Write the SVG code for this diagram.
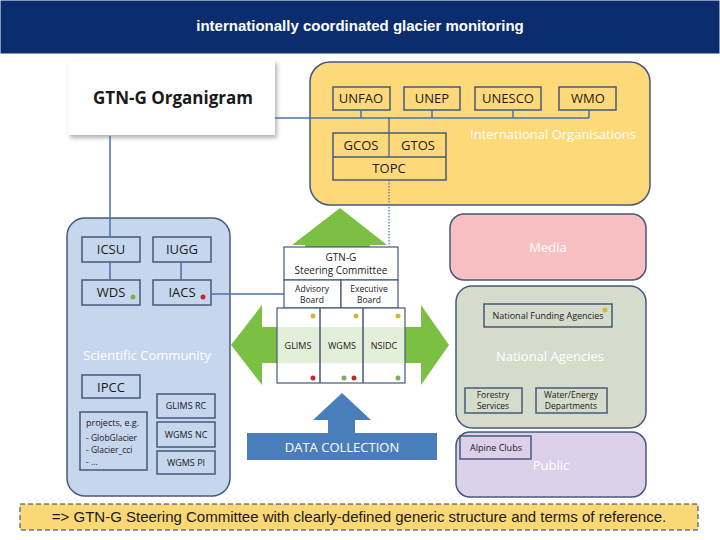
<svg xmlns="http://www.w3.org/2000/svg" width="720" height="540" viewBox="0 0 720 540">
<style>
text{font-family:"Open Sans","Liberation Sans",sans-serif;fill:#1a1a1a}
.b{fill:none;stroke:#44597a;stroke-width:1.5}
.w{fill:#fff;stroke:#44597a;stroke-width:1.2}
.ln{stroke:#4a72a8;stroke-width:1.5;fill:none}
.t{font-size:13px;text-anchor:middle}
.s{font-size:9px;text-anchor:middle}
.x{font-size:8.5px;text-anchor:middle}
.wt{fill:#fff;font-size:13px;text-anchor:middle}
</style>
<defs><filter id="sh" x="-10%" y="-10%" width="130%" height="130%"><feDropShadow dx="2" dy="3" stdDeviation="2" flood-opacity="0.3"/></filter></defs>
<rect width="720" height="540" fill="#fff"/>
<g id="header"><rect x="0" y="0" width="720" height="54" fill="#0b2d6e" stroke="#fff"/>
<text x="360" y="31" style="font-family:'Liberation Sans',sans-serif;font-size:15px;font-weight:bold;fill:#fff;text-anchor:middle">internationally coordinated glacier monitoring</text></g>
<g id="title"><rect x="68" y="60" width="207" height="75" fill="#fff" filter="url(#sh)"/>
<text x="93" y="104" style="font-size:17px;font-weight:bold">GTN-G Organigram</text></g>
<g id="intl"><rect x="310" y="62" width="340" height="143" rx="20" class="b" style="fill:#fdd97a"/>
<text x="553" y="139" class="wt">International Organisations</text>
<g class="b"><rect x="333" y="87" width="57" height="23"/><rect x="404" y="87" width="56" height="23"/><rect x="475" y="87" width="66" height="23"/><rect x="559" y="87" width="57" height="23"/>
<rect x="333" y="133" width="113" height="47"/><line x1="333" y1="157" x2="446" y2="157"/></g>
<text x="361" y="103" class="t">UNFAO</text><text x="432" y="103" class="t">UNEP</text><text x="508" y="103" class="t">UNESCO</text><text x="588" y="103" class="t">WMO</text>
<text x="361" y="150" class="t">GCOS</text><text x="418" y="150" class="t">GTOS</text><text x="389" y="173" class="t">TOPC</text></g>
<g id="sci"><rect x="67" y="218" width="163" height="278" rx="18" class="b" style="fill:#c6d6ec"/>
<text x="147" y="360" class="wt">Scientific Community</text>
<g class="b"><rect x="82" y="237" width="58" height="25"/><rect x="153" y="237" width="58" height="25"/><rect x="82" y="280" width="58" height="25"/><rect x="153" y="280" width="58" height="25"/>
<rect x="82" y="375" width="58" height="23"/><rect x="80" y="412" width="67" height="58"/><rect x="157" y="394" width="58" height="24"/><rect x="157" y="422" width="58" height="25"/><rect x="157" y="451" width="58" height="23"/></g>
<text x="111" y="254" class="t">ICSU</text><text x="182" y="254" class="t">IUGG</text><text x="111" y="297" class="t">WDS</text><text x="182" y="297" class="t">IACS</text>
<text x="111" y="392" class="t">IPCC</text>
<text x="86" y="426" style="font-size:9px">projects, e.g.</text><text x="86" y="441" style="font-size:8.5px">- GlobGlacier</text><text x="86" y="453" style="font-size:8.5px">- Glacier_cci</text><text x="86" y="465" style="font-size:8.5px">- ...</text>
<text x="186" y="409" class="s">GLIMS RC</text><text x="186" y="438" class="s">WGMS NC</text><text x="186" y="466" class="s">WGMS PI</text>
<circle cx="133" cy="297" r="2.5" fill="#7fae5a"/><circle cx="203" cy="297" r="2.5" fill="#c0282d"/></g>
<g id="media"><rect x="450" y="214" width="196" height="66" rx="14" class="b" style="fill:#f9c0c3"/><text x="548" y="252" class="wt">Media</text></g>
<g id="national"><rect x="456" y="286" width="190" height="142" rx="16" class="b" style="fill:#d6dccc"/>
<text x="550" y="361" class="wt">National Agencies</text>
<g class="b"><rect x="484" y="304" width="128" height="23"/><rect x="465" y="388" width="57" height="25"/><rect x="536" y="388" width="71" height="25"/></g>
<text x="548" y="319" class="s">National Funding Agencies</text><circle cx="605" cy="310" r="2.5" fill="#d4b83c"/>
<text x="493" y="398" class="x">Forestry</text><text x="493" y="409" class="x">Services</text><text x="571" y="398" class="x">Water/Energy</text><text x="571" y="409" class="x">Departments</text></g>
<g id="public"><rect x="456" y="432" width="190" height="65" rx="14" class="b" style="fill:#dcd0ea"/>
<rect x="460" y="436" width="71" height="23" class="b"/><text x="496" y="451" class="s">Alpine Clubs</text><text x="551" y="470" class="wt">Public</text></g>
<g id="arrows">
<polygon points="340,208 387,245 370,245 370,327 421,327 421,305 449,345 421,385 421,363 262,363 262,385 231,345 262,305 262,327 305,327 305,245 292,245" fill="#7cc043"/>
<polygon points="342,393 371,420 355,420 355,433 437,433 437,460 247,460 247,433 328,433 328,420 313,420" fill="#4a7ebb"/>
<text x="342" y="452" class="wt">DATA COLLECTION</text></g>
<g id="gtng">
<rect x="284" y="247" width="114" height="33" class="w"/><rect x="284" y="280" width="57" height="28" class="w"/><rect x="341" y="280" width="57" height="28" class="w"/>
<rect x="277" y="308" width="128" height="75" fill="#fff"/><rect x="277" y="327" width="128" height="36" fill="#e3efd9"/>
<rect x="277" y="308" width="128" height="75" class="b" style="stroke-width:1.2"/><line x1="320" y1="308" x2="320" y2="383" class="b"/><line x1="363" y1="308" x2="363" y2="383" class="b"/>
<text x="341" y="261" style="font-size:10px;text-anchor:middle">GTN-G</text><text x="341" y="274" style="font-size:10px;text-anchor:middle">Steering Committee</text>
<text x="312" y="292" class="x">Advisory</text><text x="312" y="303" class="x">Board</text>
<text x="369" y="292" class="x">Executive</text><text x="369" y="303" class="x">Board</text>
<text x="298" y="349" class="s">GLIMS</text><text x="342" y="349" class="s">WGMS</text><text x="384" y="349" class="s">NSIDC</text>
<g fill="#d4b83c"><circle cx="313" cy="316" r="2.5"/><circle cx="356" cy="316" r="2.5"/><circle cx="398" cy="316" r="2.5"/></g>
<circle cx="313" cy="378" r="2.5" fill="#c0282d"/><circle cx="344" cy="378" r="2.5" fill="#7fae5a"/><circle cx="354" cy="378" r="2.5" fill="#c0282d"/><circle cx="398" cy="378" r="2.5" fill="#7fae5a"/></g>
<g id="connectors">
<path class="ln" d="M275,118 H589 M361,110 V118 M432,110 V118 M513,110 V118 M589,110 V118"/>
<path d="M389,118 V157" stroke="#44597a" stroke-width="1.2"/>
<path d="M389,180 V247" stroke="#4a72a8" stroke-width="1.2" stroke-dasharray="1.5,1.5"/>
<path class="ln" d="M110,136 V237 M110,262 V280 M181,262 V280 M211,294 H284"/></g>
<g id="footer"><rect x="20" y="504" width="678" height="26" fill="#fbd876" stroke="#1f3c7a" stroke-dasharray="5,3"/>
<text x="359" y="522" style="font-family:'Liberation Sans',sans-serif;font-size:15px;text-anchor:middle;fill:#1a1a1a">=&gt; GTN-G Steering Committee with clearly-defined generic structure and terms of reference.</text></g>
</svg>
